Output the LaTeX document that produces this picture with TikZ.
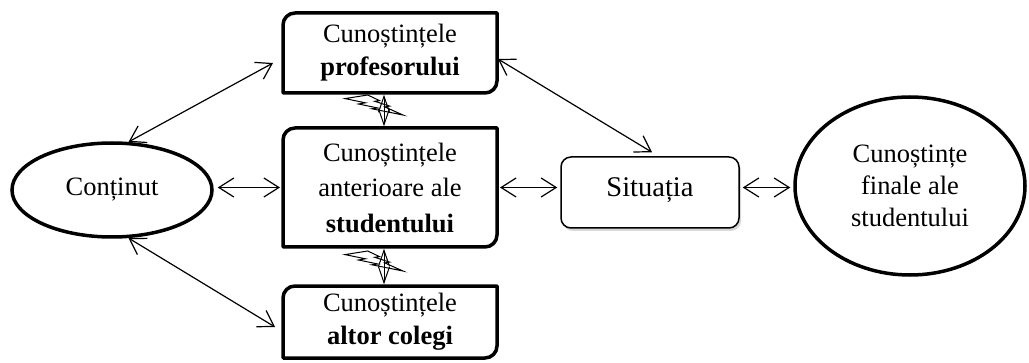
\documentclass[tikz,border=0pt]{standalone}
\usepackage{fontspec}
\setmainfont{Liberation Serif}
\usetikzlibrary{arrows.meta,shapes.geometric,shadows,calc}
\begin{document}
\begin{tikzpicture}[x=1pt,y=1pt,
  txt/.style={font=\fontsize{26.5}{33}\selectfont, align=center, inner sep=0pt, outer sep=0pt},
  kbox/.style={txt, minimum width=214pt},
  bord/.style={line width=3.5pt, line join=round},
  oval/.style={txt, ellipse, draw, line width=3.5pt, outer sep=1.75pt},
  arr/.style={line width=1.2pt, {Straight Barb[length=15pt,width=19pt]}-{Straight Barb[length=15pt,width=19pt]}},
  dbl/.style={line width=1pt, shorten <=1.75pt, shorten >=1.75pt, {Straight Barb[length=16pt,width=11pt]}-{Straight Barb[length=16pt,width=11pt]}},
  bolt/.pic={\draw[line width=1pt, line join=miter] (-16.3pt,15.5pt) -- (-4.5pt,9.9pt) -- (-9.3pt,9.2pt) -- (5.5pt,4.4pt) -- (0.7pt,3.6pt) -- (19pt,-4.5pt) -- (-12.1pt,1.7pt) -- (-6.2pt,2.5pt) -- (-25.5pt,6.5pt) -- (-18.6pt,7.7pt) -- (-39pt,11.9pt) -- cycle;}
]
\useasboundingbox (0,0) rectangle (1029,362);

% knowledge boxes
\node[kbox, minimum height=80pt] (p) at (390,309) {Cunoștințele\\\textbf{profesorului}};
\node[kbox, minimum height=119pt, font=\fontsize{26.5}{35.5}\selectfont] (s) at (390,174.5) {Cunoștințele\\anterioare ale\\\textbf{studentului}};
\node[kbox, minimum height=72pt] (g) at (390,40) {Cunoștințele\\\textbf{altor colegi}};
\foreach \n in {p,s,g}{
  \draw[bord] (\n.south west) -- ([yshift=-12pt]\n.north west) arc[start angle=180,end angle=90,radius=12pt]
    -- (\n.north east) -- ([yshift=12pt]\n.south east) arc[start angle=0,end angle=-90,radius=12pt] -- cycle;
}

% ellipses
\node[oval, minimum width=200pt, minimum height=94pt] (c) at (112,172) {Conținut};
\node[oval, minimum width=230pt, minimum height=178pt, font=\fontsize{26.5}{32}\selectfont] (f) at (910,176) {Cunoștințe\\finale ale\\studentului};

% situation
\node[txt, draw, fill=white, line width=1.5pt, rounded corners=10pt, minimum width=178pt, minimum height=71pt,
  text height=20pt, text depth=11pt, outer sep=0.75pt,
  drop shadow={shadow xshift=2pt, shadow yshift=-3pt, fill=gray!60},
  font=\fontsize{28.5}{33}\selectfont] (sit) at (650,169.5) {Situația};

% connectors
\draw[arr, shorten <=4pt, shorten >=3pt] (c.east |- s.west) -- (s.west);
\draw[arr, shorten <=3pt, shorten >=3pt] (s.east) -- (s.east -| sit.west);
\draw[arr, shorten <=3pt, shorten >=3pt] (sit.east |- s.east) -- (f.west |- s.east);
\draw[arr] (c.71) -- ([shift={(-10pt,-10pt)}]p.west);
\draw[arr] (c.-71) -- ([shift={(-8pt,-5pt)}]g.west);
\draw[arr] ([shift={(1pt,-6pt)}]p.east) -- ([shift={(2pt,4pt)}]sit.north);

% interaction arrows with lightning
\draw[dbl] ([xshift=-6pt]p.south) -- ([xshift=-6pt]s.north);
\pic at ($([xshift=-6pt]p.south)!0.5!([xshift=-6pt]s.north)$) {bolt};
\draw[dbl] ([xshift=-6pt]s.south) -- ([xshift=-6pt]g.north);
\pic at ($([xshift=-6pt]s.south)!0.5!([xshift=-6pt]g.north)$) {bolt};
\end{tikzpicture}
\end{document}
